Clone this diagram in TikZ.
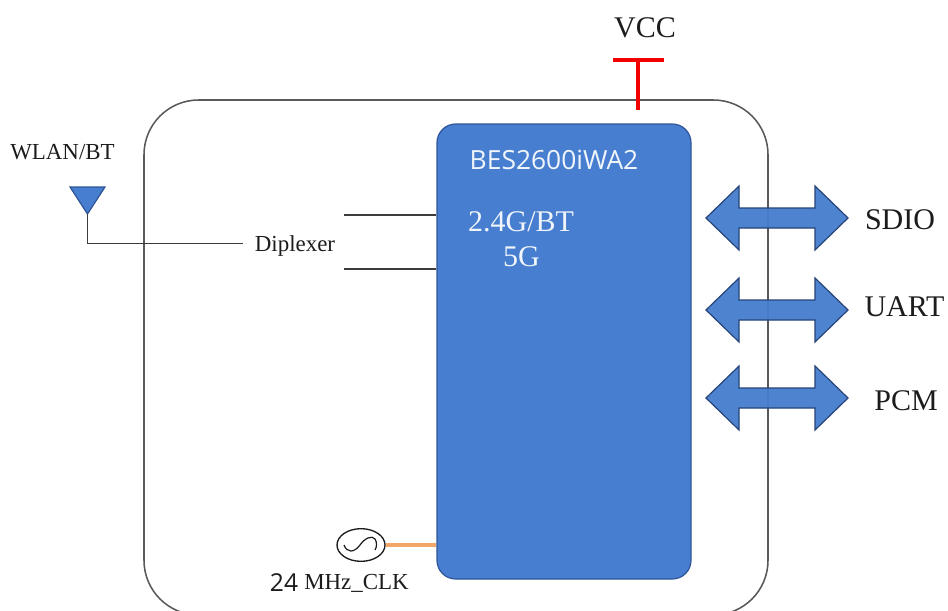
\documentclass[tikz,border=0pt]{standalone}
\usepackage{fontspec}
\setmainfont{Liberation Serif}
\newfontfamily\chipfont{Open Sans}
\usetikzlibrary{shapes.geometric}
\definecolor{chipblue}{HTML}{477ECF}
\definecolor{chipedge}{HTML}{2F5597}
\definecolor{wire}{HTML}{3C3C3C}
\definecolor{clkorange}{HTML}{F2A768}
\definecolor{ink}{HTML}{1C1C1C}
\tikzset{
  x=0.75pt,y=-0.75pt,
  wireline/.style={draw=wire,line width=1.15pt},
  modulebox/.style={draw=wire!85,line width=1.15pt,rounded corners=41pt},
  chipbox/.style={draw=chipedge,fill=chipblue,line width=0.9pt,rounded corners=14pt,minimum width=190.5pt,minimum height=341.25pt,inner sep=0pt},
  bigtxt/.style={font=\fontsize{22.5pt}{24pt}\selectfont,text=ink,inner sep=0pt},
  smalltxt/.style={font=\fontsize{17.2pt}{19pt}\selectfont,text=ink,inner sep=0pt},
  chiptxt/.style={font=\fontsize{22.5pt}{24pt}\selectfont,text=white!92!chipblue,inner sep=0pt},
  vccline/.style={draw=red!95!black,line width=2.6pt},
  clkline/.style={draw=clkorange,line width=2.3pt},
  oscnode/.style={ellipse,draw=ink,line width=1pt,minimum width=36pt,minimum height=24.5pt,inner sep=0pt},
  busarrow/.pic={
    \path[draw=chipedge!80!black,fill=chipblue,fill opacity=0.96,line width=0.9pt,line join=miter]
      (-71,0)--(-38,-32)--(-38,-10)--(38,-10)--(38,-32)--(71,0)--(38,32)--(38,10)--(-38,10)--(-38,32)--cycle;
  }
}
\begin{document}
\begin{tikzpicture}
\useasboundingbox (0,0) rectangle (948,610);
\clip (0,0) rectangle (948,610);
\fill[white] (0,0) rectangle (948,610);
% module outline
\draw[modulebox] (144,100) rectangle (768,615);
% bus arrows
\path (777,218) pic {busarrow};
\path (777,310) pic {busarrow};
\path (777,398) pic {busarrow};
% chip
\node[chipbox] (chip) at (564,351.5) {};
\node[chiptxt,font=\chipfont\fontsize{19.8pt}{22pt}\selectfont] (chipname) at (554,160) {BES2600iWA2};
\node[chiptxt] (band1) at (521,222) {2.4G/BT};
\node[chiptxt] (band2) at (521.5,257) {5G};
% VCC
\node[bigtxt] (vcc) at (645,28) {VCC};
\coordinate (vccl) at (613,60);
\coordinate (vccr) at (664,60);
\coordinate (vcct) at (638,60);
\coordinate (vccb) at (638,110);
\draw[vccline] (vccl) -- (vccr);
\draw[vccline] (vcct) -- (vccb);
% antenna
\node[smalltxt] (wlan) at (62.5,152) {WLAN/BT};
\coordinate (antl) at (70,187);
\coordinate (antr) at (105,187);
\coordinate (anta) at (87.5,214);
\draw[draw=chipedge,fill=chipblue,line width=0.9pt] (antl) -- (antr) -- (anta) -- cycle;
\node[smalltxt] (dip) at (295,246) {Diplexer};
\coordinate (dipin) at (243,243.5);
\coordinate (dip1) at (344,215);
\coordinate (dip2) at (344,269);
\draw[wireline] (anta) |- (dipin);
\draw[wireline] (dip1) -- (dip1 -| chip.west);
\draw[wireline] (dip2) -- (dip2 -| chip.west);
% oscillator
\node[oscnode] (osc) at (361,545) {};
\draw[draw=ink,line width=0.9pt] (344,545) .. controls (347,553) and (354,553) .. (360,545) .. controls (365,538) and (372,535) .. (375,539) .. controls (377,542) and (377,547) .. (375,550);
\draw[clkline] (osc.east) -- (osc.east -| chip.west);
\node[font=\chipfont\fontsize{18.5pt}{20pt}\selectfont,text=ink,inner sep=0pt] (clk24) at (284,583) {24};
\node[smalltxt,anchor=west] (clk) at (304,583) {MHz\_CLK};
% labels
\node[bigtxt] (sdio) at (900,220) {SDIO};
\node[bigtxt] (uart) at (904.5,307) {UART};
\node[bigtxt] (pcm) at (906,401) {PCM};
\end{tikzpicture}
\end{document}
